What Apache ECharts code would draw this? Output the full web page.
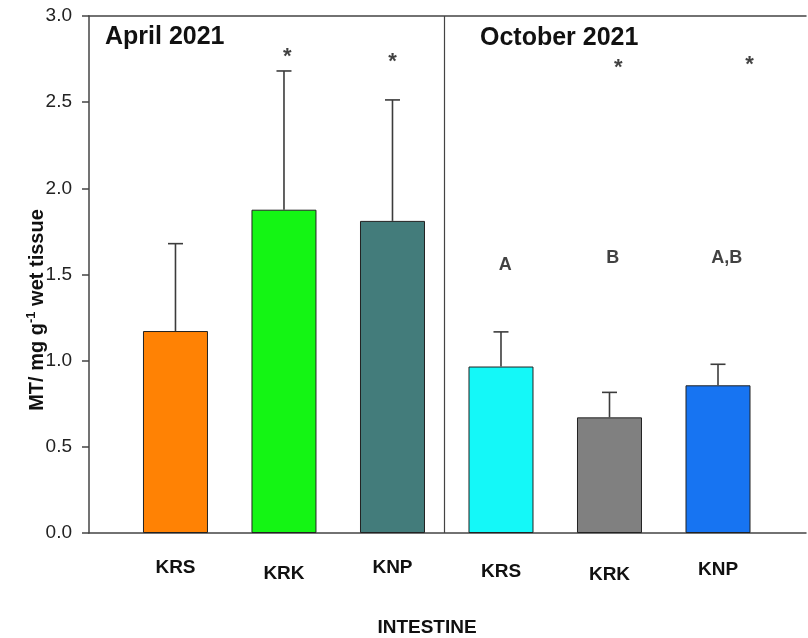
<!DOCTYPE html>
<html>
<head>
<meta charset="utf-8">
<script src="https://cdn.jsdelivr.net/npm/echarts@6/dist/echarts.min.js"></script>
<style>
  html, body { margin: 0; padding: 0; background: #fff; }
  #chart { width: 808px; height: 638px; }
</style>
</head>
<body>
<div id="chart"></div>
<script>
// groups: April 2021 (0-2), October 2021 (3-5)
const groups = ["KRS", "KRK", "KNP", "KRS", "KRK", "KNP"]
const means = [1.172, 1.876, 1.811, 0.966, 0.671, 0.857]
const upperErr = [1.679, 2.681, 2.513, 1.167, 0.816, 0.979]
// significance marks [x position, y value, text]
const stars = [[1.03, 2.763, "*"], [2.0, 2.734, "*"], [4.08, 2.699, "*"], [5.29, 2.716, "*"]]
const letters = [[3.04, 1.555, "A"], [4.03, 1.596, "B"], [5.08, 1.596, "A,B"]]
const yMin = 0
const yMax = 3
const yStep = 0.5
const dividerAt = 2.475

const barColors = ["#FF8204", "#14F514", "#437C7B", "#14F8F8", "#808080", "#1774F2"]
const labelDrop = [1.5, 7.5, 1.5, 5.5, 8.5, 3.5] // stagger of category labels
const FONT = "Liberation Sans, Arial, sans-serif"
const AX = "#444"

const chart = echarts.init(document.getElementById("chart"))

const rich = {}
labelDrop.forEach((d, i) => {
  rich["t" + i] = { fontSize: 19, fontWeight: "bold", color: "#111", fontFamily: FONT, padding: [d, 0, 0, 0] }
})

const xRange = { min: -0.797, max: 5.811 }

const option = {
  animation: false,
  backgroundColor: "#fff",
  title: [
    { text: "April 2021", left: 105, top: 25, padding: 0,
      textStyle: { fontSize: 25, fontWeight: "bold", color: "#111", fontFamily: FONT } },
    { text: "October 2021", left: 480, top: 26, padding: 0,
      textStyle: { fontSize: 25, fontWeight: "bold", color: "#111", fontFamily: FONT } },
  ],
  grid: { left: 89, right: 2, top: 16, bottom: 105 },
  xAxis: [
    {
      type: "value",
      ...xRange,
      position: "bottom",
      splitLine: { show: false },
      axisLine: { show: true, onZero: false, lineStyle: { color: AX, width: 1.5 } },
      axisTick: { show: false },
      axisLabel: {
        customValues: [0, 1, 2, 3, 4, 5],
        margin: 24,
        formatter: (v) => {
          const i = Math.round(v)
          return "{t" + i + "|" + groups[i] + "}"
        },
        rich: rich,
      },
    },
    {
      type: "value",
      ...xRange,
      position: "top",
      splitLine: { show: false },
      axisLine: { show: true, onZero: false, lineStyle: { color: AX, width: 1.5 } },
      axisTick: { show: false },
      axisLabel: { show: false },
    },
  ],
  yAxis: {
    type: "value",
    min: yMin,
    max: yMax,
    interval: yStep,
    splitLine: { show: false },
    axisLine: { show: true, onZero: false, lineStyle: { color: AX, width: 1.5 } },
    axisTick: { show: true, length: 7, lineStyle: { color: AX, width: 1.5 } },
    axisLabel: {
      margin: 17,
      fontSize: 19,
      color: "#222",
      fontFamily: FONT,
      formatter: (v) => v.toFixed(1),
    },
  },
  graphic: [
    {
      type: "text",
      x: 37,
      y: 310,
      rotation: Math.PI / 2,
      style: {
        text: "{m|MT/ mg g}{s|-1}{m| wet tissue}",
        align: "center",
        verticalAlign: "middle",
        rich: {
          m: { fontSize: 20, fontWeight: "bold", fontFamily: FONT, fill: "#111", lineHeight: 24 },
          s: { fontSize: 13, fontWeight: "bold", fontFamily: FONT, fill: "#111", verticalAlign: "top", lineHeight: 13 },
        },
      },
    },
    {
      type: "text",
      x: 427,
      y: 628,
      style: {
        text: "INTESTINE",
        align: "center",
        verticalAlign: "middle",
        fontSize: 19,
        fontWeight: "bold",
        fontFamily: FONT,
        fill: "#111",
      },
    },
  ],
  series: [
    {
      type: "bar",
      barWidth: 65,
      data: means.map((v, i) => ({
        value: [i, v],
        itemStyle: { color: barColors[i], borderColor: "#222", borderWidth: 1 },
      })),
      markLine: {
        silent: true,
        symbol: "none",
        label: { show: false },
        lineStyle: { color: AX, width: 1.2, type: "solid" },
        data: [{ xAxis: dividerAt }],
      },
    },
    {
      type: "custom",
      z: 3,
      data: means.map((v, i) => [i, v, upperErr[i]]),
      renderItem: (params, api) => {
        const base = api.coord([api.value(0), api.value(1)])
        const top = api.coord([api.value(0), api.value(2)])
        const st = { stroke: "#3c3c3c", lineWidth: 1.6 }
        return {
          type: "group",
          children: [
            { type: "line", shape: { x1: base[0], y1: base[1], x2: top[0], y2: top[1] }, style: st },
            { type: "line", shape: { x1: top[0] - 7.5, y1: top[1], x2: top[0] + 7.5, y2: top[1] }, style: st },
          ],
        }
      },
    },
    {
      type: "scatter",
      symbolSize: 1,
      itemStyle: { color: "rgba(0,0,0,0)" },
      data: stars,
      label: {
        show: true,
        position: "inside",
        formatter: (p) => p.data[2],
        fontSize: 22,
        fontWeight: "bold",
        color: "#111",
        fontFamily: FONT,
      },
    },
    {
      type: "scatter",
      symbolSize: 1,
      itemStyle: { color: "rgba(0,0,0,0)" },
      data: letters,
      label: {
        show: true,
        position: "inside",
        formatter: (p) => p.data[2],
        fontSize: 18,
        fontWeight: "bold",
        color: "#111",
        fontFamily: FONT,
      },
    },
  ],
}

chart.setOption(option)
</script>
</body>
</html>
